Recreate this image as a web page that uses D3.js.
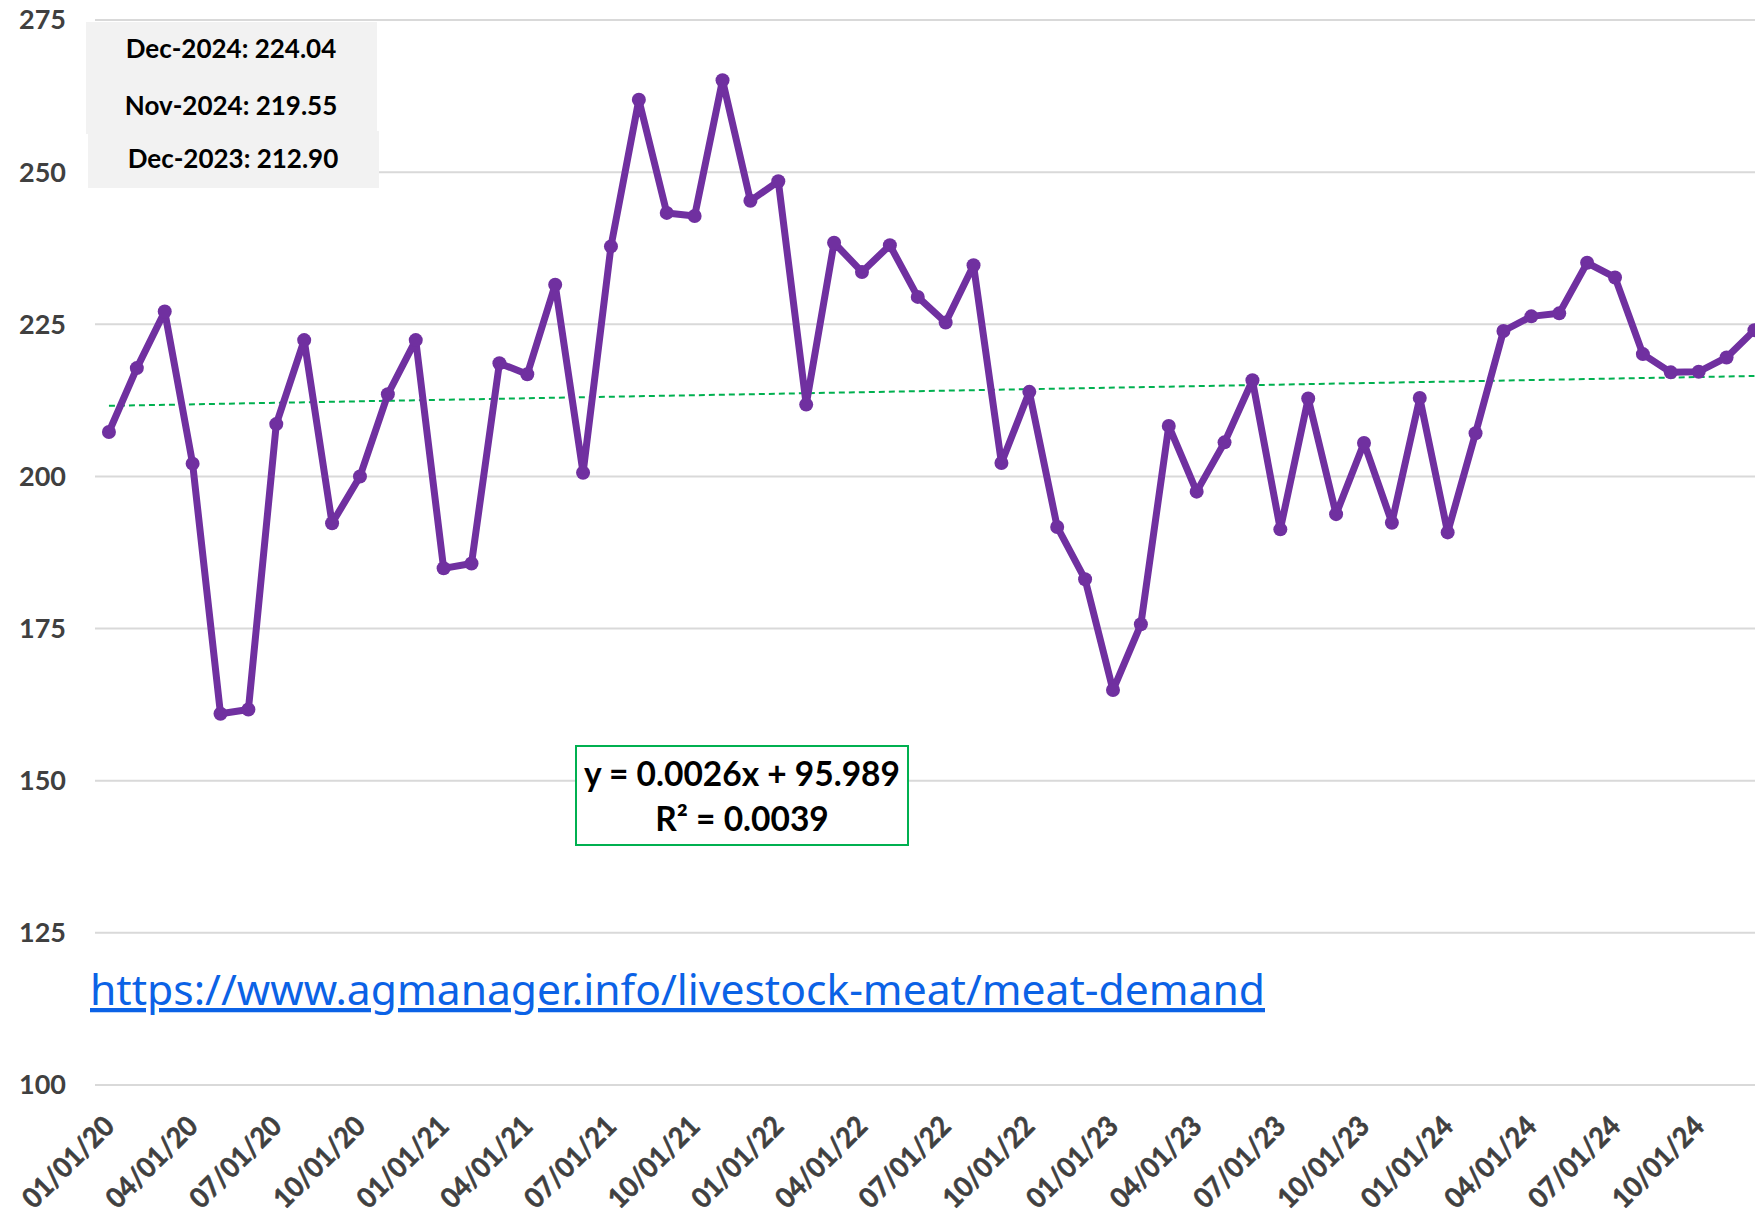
<!DOCTYPE html>
<html>
<head>
<meta charset="utf-8">
<script src="https://cdn.jsdelivr.net/npm/d3@7"></script>
<style>
  html, body { margin: 0; padding: 0; background: #fff; }
  svg { display: block; }
</style>
</head>
<body>
<div id="chart"></div>
<script>
// Monthly index values, Jan 2020 - Dec 2024
const months = [
  '2020-01', '2020-02', '2020-03', '2020-04', '2020-05', '2020-06', '2020-07', '2020-08', '2020-09', '2020-10', '2020-11', '2020-12',
  '2021-01', '2021-02', '2021-03', '2021-04', '2021-05', '2021-06', '2021-07', '2021-08', '2021-09', '2021-10', '2021-11', '2021-12',
  '2022-01', '2022-02', '2022-03', '2022-04', '2022-05', '2022-06', '2022-07', '2022-08', '2022-09', '2022-10', '2022-11', '2022-12',
  '2023-01', '2023-02', '2023-03', '2023-04', '2023-05', '2023-06', '2023-07', '2023-08', '2023-09', '2023-10', '2023-11', '2023-12',
  '2024-01', '2024-02', '2024-03', '2024-04', '2024-05', '2024-06', '2024-07', '2024-08', '2024-09', '2024-10', '2024-11', '2024-12'
]
const values = [
  207.3, 217.8, 227.1, 202.1, 161.0, 161.7, 208.6, 222.4, 192.3, 200.0, 213.5, 222.4,
  184.9, 185.7, 218.6, 216.8, 231.5, 200.6, 237.8, 261.9, 243.3, 242.8, 265.1, 245.3,
  248.5, 211.8, 238.4, 233.6, 238.0, 229.5, 225.3, 234.7, 202.2, 213.9, 191.7, 183.1,
  164.9, 175.7, 208.3, 197.5, 205.6, 215.8, 191.3, 212.8, 193.8, 205.5, 192.4, 212.9,
  190.8, 207.1, 223.9, 226.3, 226.8, 235.1, 232.7, 220.1, 217.1, 217.2, 219.55, 224.04
]

// x tick labels, every third month
const tickMonths = ['2020-01', '2020-04', '2020-07', '2020-10', '2021-01', '2021-04', '2021-07', '2021-10',
  '2022-01', '2022-04', '2022-07', '2022-10', '2023-01', '2023-04', '2023-07', '2023-10',
  '2024-01', '2024-04', '2024-07', '2024-10']
const tickLabels = ['01/01/20', '04/01/20', '07/01/20', '10/01/20', '01/01/21', '04/01/21', '07/01/21', '10/01/21',
  '01/01/22', '04/01/22', '07/01/22', '10/01/22', '01/01/23', '04/01/23', '07/01/23', '10/01/23',
  '01/01/24', '04/01/24', '07/01/24', '10/01/24']
const yTicks = [100, 125, 150, 175, 200, 225, 250, 275]

// linear trend line, value at first and last month as drawn
const trendEnds = [211.6, 216.5]
const equationLines = ['y = 0.0026x + 95.989', 'R² = 0.0039']

// callout box: latest, previous and year-ago values
const calloutNames = ['Dec-2024', 'Nov-2024', 'Dec-2023']
const calloutValues = [values[59], values[58], values[47]]

const sourceUrl = 'https://www.agmanager.info/livestock-meat/meat-demand'

const width = 1755, height = 1215
const plotLeft = 95, step = 27.89

const svg = d3.select('#chart').append('svg')
  .attr('width', width)
  .attr('height', height)

const x = d3.scaleBand().domain(months).range([plotLeft, plotLeft + months.length * step])
const cx = d => x(d) + x.bandwidth() / 2
const y = d3.scaleLinear().domain([100, 275]).range([1085, 20])

// gridlines
svg.append('g')
  .selectAll('line')
  .data(yTicks)
  .enter()
  .append('line')
  .attr('x1', plotLeft)
  .attr('x2', width)
  .attr('y1', d => y(d))
  .attr('y2', d => y(d))
  .attr('stroke', '#d9d9d9')
  .attr('stroke-width', 2)

// y axis labels
svg.append('g')
  .selectAll('text')
  .data(yTicks)
  .enter()
  .append('text')
  .attr('x', 66)
  .attr('y', d => y(d))
  .attr('dy', '0.35em')
  .attr('text-anchor', 'end')
  .attr('font-family', 'Lato, sans-serif')
  .attr('font-weight', 'bold')
  .attr('font-size', 27)
  .attr('fill', '#404040')
  .text(d => d)

// x axis labels, rotated (squeezed a little to mimic the narrower original face)
svg.append('g')
  .selectAll('text')
  .data(tickMonths)
  .enter()
  .append('text')
  .attr('transform', d => 'translate(' + (cx(d) + 7) + ',1128) rotate(-45)')
  .attr('text-anchor', 'end')
  .attr('font-family', 'Lato, sans-serif')
  .attr('font-weight', 'bold')
  .attr('font-size', 28)
  .attr('textLength', 116)
  .attr('lengthAdjust', 'spacingAndGlyphs')
  .attr('fill', '#404040')
  .attr('stroke', '#404040')
  .attr('stroke-width', 0.6)
  .text((d, i) => tickLabels[i])

// trend line
svg.append('line')
  .attr('x1', cx(months[0]))
  .attr('x2', cx(months[months.length - 1]))
  .attr('y1', y(trendEnds[0]))
  .attr('y2', y(trendEnds[1]))
  .attr('stroke', '#00b050')
  .attr('stroke-width', 2)
  .attr('stroke-dasharray', '6,4')

// series line
const line = d3.line()
  .x((d, i) => cx(months[i]))
  .y(d => y(d))

svg.append('path')
  .datum(values)
  .attr('d', line)
  .attr('fill', 'none')
  .attr('stroke', '#7030a0')
  .attr('stroke-width', 7)
  .attr('stroke-linejoin', 'round')

svg.append('g')
  .selectAll('circle')
  .data(values)
  .enter()
  .append('circle')
  .attr('cx', (d, i) => cx(months[i]))
  .attr('cy', d => y(d))
  .attr('r', 7)
  .attr('fill', '#7030a0')

// callout boxes
svg.append('rect')
  .attr('x', 86).attr('y', 22)
  .attr('width', 291).attr('height', 112)
  .attr('fill', '#f2f2f2')
svg.append('rect')
  .attr('x', 88).attr('y', 131)
  .attr('width', 291).attr('height', 57)
  .attr('fill', '#f2f2f2')

const calloutY = [49, 106, 159]
svg.append('g')
  .selectAll('text')
  .data(calloutNames)
  .enter()
  .append('text')
  .attr('x', (d, i) => i === 2 ? 233 : 231)
  .attr('y', (d, i) => calloutY[i])
  .attr('dy', '0.35em')
  .attr('text-anchor', 'middle')
  .attr('font-family', 'Lato, sans-serif')
  .attr('font-weight', 'bold')
  .attr('font-size', 26)
  .attr('fill', '#000')
  .text((d, i) => d + ': ' + calloutValues[i].toFixed(2))

// regression equation box
svg.append('rect')
  .attr('x', 576).attr('y', 746)
  .attr('width', 332).attr('height', 99)
  .attr('fill', '#fff')
  .attr('stroke', '#00b050')
  .attr('stroke-width', 2)

svg.append('g')
  .selectAll('text')
  .data(equationLines)
  .enter()
  .append('text')
  .attr('x', 742)
  .attr('y', (d, i) => 786 + i * 45)
  .attr('text-anchor', 'middle')
  .attr('font-family', 'Lato, sans-serif')
  .attr('font-weight', 'bold')
  .attr('font-size', 33.5)
  .attr('fill', '#000')
  .text(d => d)

// source link
svg.append('text')
  .attr('x', 90)
  .attr('y', 1005)
  .attr('font-family', '"Noto Sans", sans-serif')
  .attr('font-size', 42.5)
  .attr('textLength', 1175)
  .attr('lengthAdjust', 'spacingAndGlyphs')
  .attr('fill', '#0b62e6')
  .attr('text-decoration', 'underline')
  .text(sourceUrl)
</script>
</body>
</html>
